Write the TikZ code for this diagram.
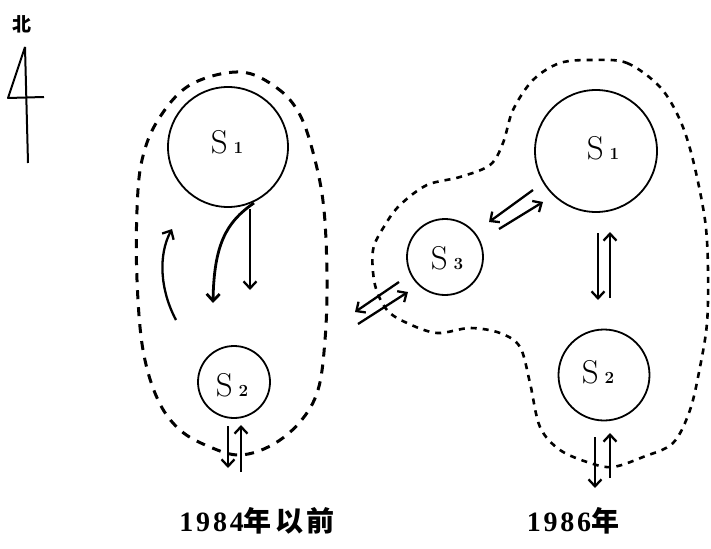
\documentclass[tikz,border=0pt]{standalone}
\usepackage{fontspec}
\usetikzlibrary{arrows.meta}
\newfontfamily\cjk{Noto Sans CJK SC}
\newfontfamily\labdig[LetterSpace=10]{Liberation Serif}
\newfontfamily\labcjk[LetterSpace=12]{Noto Sans CJK SC}
\newcommand{\SL}[1]{\fontsize{33}{33}\selectfont S\hspace{6pt}{\fontsize{17}{17}\selectfont\bfseries #1}}
\tikzset{
  circ/.style={circle,draw,line width=1.8pt,inner sep=0pt},
  arr/.style={line width=2.3pt,-{Straight Barb[length=7pt,width=13pt]}},
  outA/.style={line width=3pt,dash pattern=on 9pt off 8pt},
  outB/.style={line width=2.6pt,dash pattern=on 6pt off 6pt},
  captxt/.style={inner sep=0pt,font=\bfseries\fontsize{28}{28}\selectfont},
}
\begin{document}
\begin{tikzpicture}[x=1pt,y=-1pt]
\useasboundingbox (0,0) rectangle (711,548);
% compass
\node[inner sep=0pt,font=\cjk\bfseries\fontsize{19}{19}\selectfont] (north) at (22,24) {北};
\coordinate (ntop) at (25,47);
\coordinate (nbot) at (28,163);
\coordinate (nleft) at (8,98);
\coordinate (nright) at (44,97);
\draw[line width=2pt] (ntop) -- (nbot);
\draw[line width=2pt,line join=round] (ntop) -- (nleft) -- (nright);
% left cluster
\node[circ,minimum size=120pt] (LS1) at (228,147) {};
\node at (227,142) {\SL{1}};
\node[circ,minimum size=72pt] (LS2) at (234,382) {};
\node at (232,385) {\SL{2}};
\draw[outA] plot[smooth cycle,tension=0.6] coordinates {(240,72) (277,88) (300,115) (315,160) (324,210) (327,280) (325,340) (318,390) (300,422) (272,445) (240,455) (210,447) (180,430) (158,400) (143,350) (137,280) (137,210) (142,160) (158,120) (190,85)};
\coordinate (la1) at (254,203);
\coordinate (la1e) at (213,303);
\draw[arr,line width=2.8pt] (la1) .. controls (226,222) and (214,245) .. (la1e);
\coordinate (la2) at (250,209);
\coordinate (la2e) at (250,290);
\draw[arr] (la2) -- (la2e);
\coordinate (la3) at (176,320);
\coordinate (la3e) at (172,229);
\draw[arr] (la3) .. controls (160,290) and (158,255) .. (la3e);
\coordinate (lb1) at (228,426);
\coordinate (lb1e) at (228,468);
\draw[arr] (lb1) -- (lb1e);
\coordinate (lb2) at (241,472);
\coordinate (lb2e) at (241,425);
\draw[arr] (lb2) -- (lb2e);
% right cluster
\node[circ,minimum size=122pt] (RS1) at (596,151) {};
\node at (603,148) {\SL{1}};
\node[circ,minimum size=76pt] (RS3) at (445,257) {};
\node at (447,258) {\SL{3}};
\node[circ,minimum size=91pt] (RS2) at (604,375) {};
\node at (598,372) {\SL{2}};
\draw[outB] plot[smooth cycle,tension=0.55] coordinates {(593,60) (627,63) (660,87) (680,120) (693,160) (705,220) (708,270) (707,323) (700,367) (690,410) (673,443) (643,457) (613,467) (590,463) (560,450) (540,427) (530,383) (520,347) (500,333) (470,328) (437,333) (407,323) (387,310) (375,285) (373,250) (385,225) (400,205) (427,185) (460,177) (490,165) (503,143) (513,110) (533,80) (560,63)};
\coordinate (ra1) at (533,190);
\coordinate (ra1e) at (489,222);
\draw[arr] (ra1) -- (ra1e);
\coordinate (ra2) at (499,229);
\coordinate (ra2e) at (543,202);
\draw[arr] (ra2) -- (ra2e);
\coordinate (rb1) at (598,233);
\coordinate (rb1e) at (598,300);
\draw[arr] (rb1) -- (rb1e);
\coordinate (rb2) at (610,298);
\coordinate (rb2e) at (610,232);
\draw[arr] (rb2) -- (rb2e);
\coordinate (rc1) at (595,437);
\coordinate (rc1e) at (595,488);
\draw[arr] (rc1) -- (rc1e);
\coordinate (rc2) at (610,478);
\coordinate (rc2e) at (610,433);
\draw[arr] (rc2) -- (rc2e);
\coordinate (rd1) at (399,282);
\coordinate (rd1e) at (355,312);
\draw[arr] (rd1) -- (rd1e);
\coordinate (rd2) at (358,324);
\coordinate (rd2e) at (408,292);
\draw[arr] (rd2) -- (rd2e);
% captions
\node[captxt] (capA) at (257,521) {{\labdig\bfseries 1984}{\labcjk\bfseries 年以前}};
\node[captxt] (capB) at (573,521) {{\labdig\bfseries 1986}{\labcjk\bfseries 年}};
\end{tikzpicture}
\end{document}
